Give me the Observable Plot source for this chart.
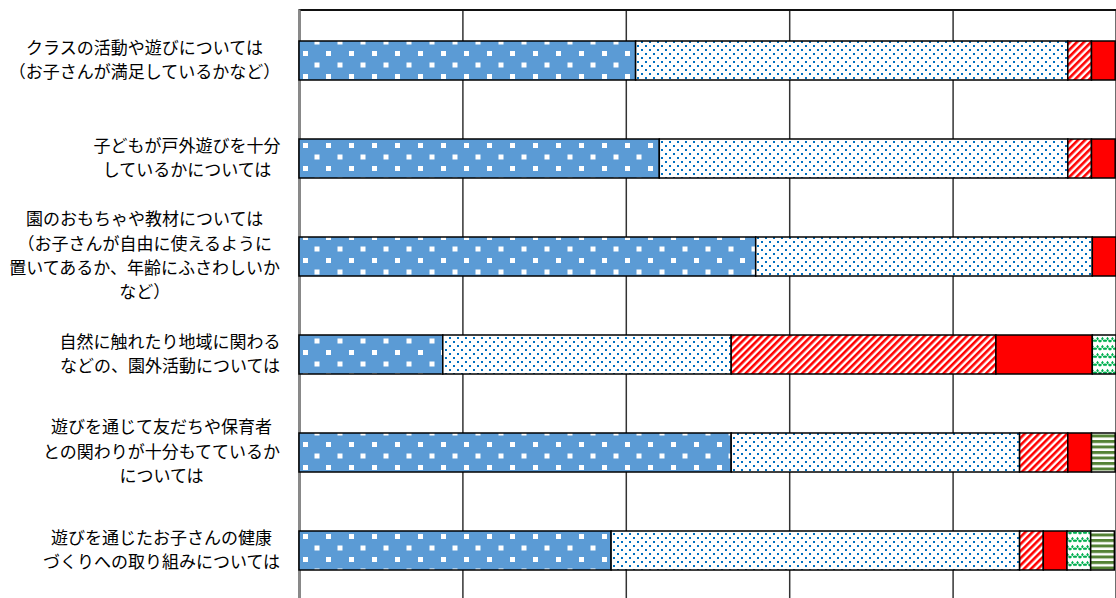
<!DOCTYPE html>
<html>
<head>
<meta charset="utf-8">
<script src="https://cdn.jsdelivr.net/npm/d3@7"></script>
<script src="https://cdn.jsdelivr.net/npm/@observablehq/plot@0.6"></script>
<style>
  html, body { margin: 0; padding: 0; background: #fff; overflow: hidden; }
  #chart { width: 1116px; height: 598px; overflow: hidden; }
</style>
</head>
<body>
<div id="chart"></div>
<script>
// Categories (row labels, top to bottom)
const categories = [
  "クラスの活動や遊びについては\n（お子さんが満足しているかなど）",
  "子どもが戸外遊びを十分\nしているかについては",
  "園のおもちゃや教材については\n（お子さんが自由に使えるように\n置いてあるか、年齢にふさわしいか\nなど）",
  "自然に触れたり地域に関わる\nなどの、園外活動については",
  "遊びを通じて友だちや保育者\nとの関わりが十分もてているか\nについては",
  "遊びを通じたお子さんの健康\nづくりへの取り組みについては"
];

// Series (stack order, left to right)
const series = ["満足", "どちらかといえば満足", "どちらかといえば不満", "不満", "その他", "無回答"];

// Percentages per series, one value per category
const satisfied            = [41.2, 44.1, 55.9, 17.6, 52.9, 38.2];
const somewhatSatisfied    = [52.9, 50.0, 41.2, 35.3, 35.3, 50.0];
const somewhatDissatisfied = [2.9,  2.9,  0,    32.4, 5.9,  2.9];
const dissatisfied         = [2.9,  2.9,  2.9,  11.8, 2.9,  2.9];
const other                = [0,    0,    0,    2.9,  0,    2.9];
const noAnswer             = [0,    0,    0,    0,    2.9,  2.9];

const seriesValues = [satisfied, somewhatSatisfied, somewhatDissatisfied, dissatisfied, other, noAnswer];
const gridTicks = [20, 40, 60, 80, 100];

const patternIds = ["pSat", "pSomeSat", "pSomeDis", "pDis", "pOther", "pNoAns"];

const rows = [];
categories.forEach((c, i) => {
  series.forEach((s, j) => {
    const v = seriesValues[j][i];
    if (v > 0) rows.push({category: c, series: s, value: v});
  });
});

// Label blocks: lines centred within a block whose right edge sits near the axis
const FONT = "'Noto Sans CJK JP', 'Noto Sans', sans-serif";
const FS = 17;
const ctx = document.createElement("canvas").getContext("2d");
ctx.font = `${FS}px ${FONT}`;
const labelGap = 19; // distance between block's right edge and the axis
const labelMarks = categories.map(c => {
  const w = d3.max(c.split("\n"), l => ctx.measureText(l).width);
  return Plot.text([c], {
    y: d => d,
    frameAnchor: "left",
    dx: -(labelGap + w / 2),
    dy: -3,
    textAnchor: "middle",
    lineHeight: 1.43,
    fontSize: FS,
    fill: "#000"
  });
});

const chart = Plot.plot({
  width: 1116,
  height: 601,
  marginLeft: 299,
  marginRight: 0,
  marginTop: 9.5,
  marginBottom: 0,
  style: {fontFamily: FONT, fontSize: FS + "px", color: "#000", background: "#fff"},
  x: {domain: [0, 100], axis: null},
  y: {domain: categories, axis: null, paddingInner: 0.6, paddingOuter: 0.3},
  color: {domain: series, range: patternIds.map(id => `url(#${id})`)},
  marks: [
    Plot.ruleX(gridTicks, {stroke: "#333", strokeWidth: 1.5}),
    Plot.frame({stroke: "#111", strokeWidth: 2}),
    Plot.ruleX([0], {stroke: "#8a8a8a", strokeWidth: 2}),
    Plot.barX(rows, Plot.stackX({
      y: "category",
      x: "value",
      fill: "series",
      order: series,
      stroke: "#000",
      strokeWidth: 1.5
    })),
    ...labelMarks
  ]
});

// Pattern fills
const ns = "http://www.w3.org/2000/svg";
const defs = document.createElementNS(ns, "defs");
defs.innerHTML = `
  <pattern id="pSat" patternUnits="userSpaceOnUse" width="23" height="23" x="0" y="2">
    <rect width="23" height="23" fill="#5B9BD5"/>
    <rect x="4" y="3" width="5" height="5" fill="#fff"/>
    <rect x="15.5" y="14.5" width="5" height="5" fill="#fff"/>
  </pattern>
  <pattern id="pSomeSat" patternUnits="userSpaceOnUse" width="8" height="8">
    <rect width="8" height="8" fill="#fff"/>
    <rect x="1" y="1" width="2" height="2" fill="#0070C0"/>
    <rect x="5" y="5" width="2" height="2" fill="#0070C0"/>
  </pattern>
  <pattern id="pSomeDis" patternUnits="userSpaceOnUse" width="5" height="5" patternTransform="rotate(45)">
    <rect width="5" height="5" fill="#fff"/>
    <rect width="2.6" height="5" fill="#FF0000"/>
  </pattern>
  <pattern id="pDis" patternUnits="userSpaceOnUse" width="8" height="8">
    <rect width="8" height="8" fill="#FF0000"/>
  </pattern>
  <pattern id="pOther" patternUnits="userSpaceOnUse" width="10" height="8">
    <rect width="10" height="8" fill="#fff"/>
    <path d="M0,6 L2.5,2.5 L5,6 L7.5,2.5 L10,6" fill="none" stroke="#00B050" stroke-width="2" stroke-dasharray="2.2,0.8"/>
  </pattern>
  <pattern id="pNoAns" patternUnits="userSpaceOnUse" width="6" height="5.5">
    <rect width="6" height="5.5" fill="#fff"/>
    <rect y="0" width="6" height="3" fill="#548235"/>
  </pattern>`;
chart.insertBefore(defs, chart.firstChild);

document.getElementById("chart").appendChild(chart);
</script>
</body>
</html>
